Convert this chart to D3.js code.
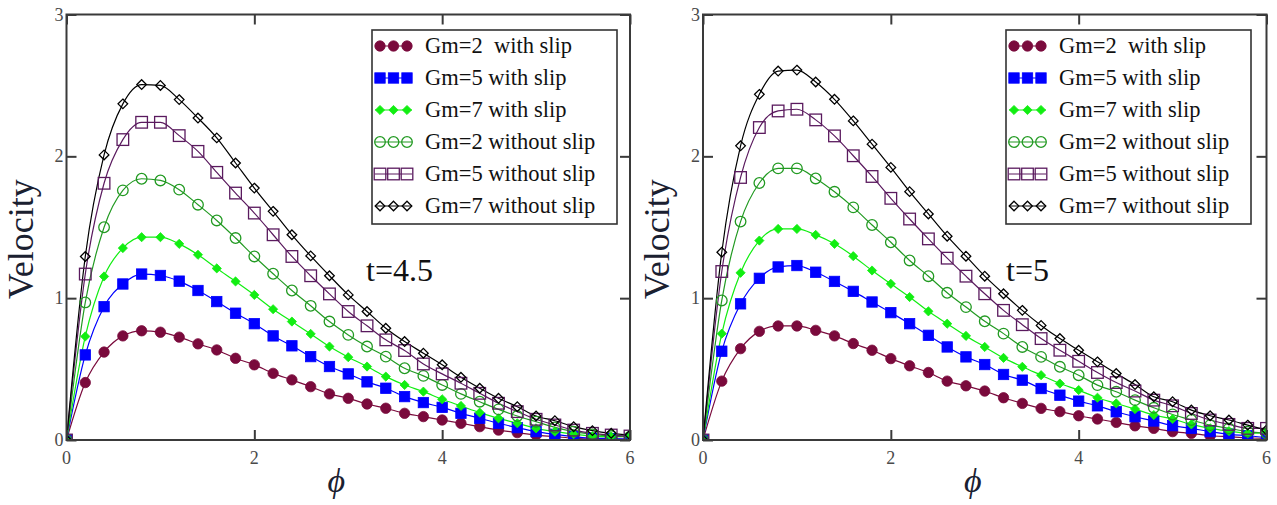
<!DOCTYPE html>
<html>
<head>
<meta charset="utf-8">
<script src="https://cdn.jsdelivr.net/npm/d3@7"></script>
<style>
  html, body { margin: 0; padding: 0; background: #fff; }
  svg { display: block; }
  text { font-family: "Liberation Serif", "Times New Roman", serif; }
</style>
</head>
<body>
<svg id="chart" width="1277" height="505"></svg>
<script>
// ---------- data ----------
const phiValues = [0,0.2,0.4,0.6,0.8,1.0,1.2,1.4,1.6,1.8,2.0,2.2,2.4,2.6,2.8,3.0,3.2,3.4,3.6,3.8,4.0,4.2,4.4,4.6,4.8,5.0,5.2,5.4,5.6,5.8,6.0];

const seriesNames = ["Gm=2  with slip","Gm=5 with slip","Gm=7 with slip","Gm=2 without slip","Gm=5 without slip","Gm=7 without slip"];

// t = 4.5
const gm2SlipT45   = [0,0.405,0.62,0.734,0.77,0.76,0.725,0.678,0.635,0.576,0.53,0.47,0.424,0.376,0.325,0.294,0.254,0.224,0.188,0.165,0.141,0.118,0.094,0.07,0.052,0.035,0.024,0.012,0.006,0.005,0.004];
const gm5SlipT45   = [0,0.6,0.94,1.1,1.17,1.16,1.12,1.054,0.976,0.894,0.82,0.734,0.664,0.588,0.518,0.466,0.41,0.365,0.306,0.264,0.23,0.188,0.153,0.118,0.087,0.059,0.04,0.024,0.012,0.01,0.006];
const gm7SlipT45   = [0,0.73,1.153,1.353,1.43,1.43,1.383,1.306,1.21,1.118,1.023,0.922,0.835,0.748,0.659,0.584,0.518,0.447,0.388,0.341,0.287,0.24,0.193,0.153,0.118,0.082,0.059,0.042,0.028,0.024,0.028];
const gm2NoSlipT45 = [0,0.97,1.5,1.76,1.842,1.83,1.765,1.659,1.548,1.424,1.294,1.172,1.054,0.946,0.835,0.741,0.659,0.588,0.506,0.452,0.388,0.325,0.27,0.216,0.169,0.129,0.089,0.059,0.04,0.028,0.024];
const gm5NoSlipT45 = [0,1.17,1.81,2.118,2.24,2.24,2.146,2.035,1.887,1.741,1.6,1.447,1.294,1.158,1.03,0.906,0.805,0.706,0.631,0.536,0.466,0.4,0.329,0.259,0.2,0.146,0.106,0.07,0.047,0.035,0.028];
const gm7NoSlipT45 = [0,1.294,2.01,2.37,2.506,2.5,2.4,2.27,2.13,1.953,1.776,1.612,1.447,1.298,1.158,1.023,0.906,0.788,0.694,0.612,0.53,0.442,0.365,0.294,0.235,0.169,0.136,0.094,0.066,0.047,0.035];

// t = 5
const gm2SlipT5   = [0,0.415,0.644,0.766,0.804,0.804,0.773,0.734,0.68,0.633,0.574,0.523,0.476,0.415,0.382,0.345,0.298,0.258,0.223,0.2,0.171,0.148,0.124,0.1,0.082,0.059,0.047,0.03,0.023,0.016,0.012];
const gm5SlipT5   = [0,0.626,0.96,1.14,1.22,1.23,1.183,1.118,1.048,0.973,0.898,0.82,0.738,0.656,0.586,0.532,0.462,0.422,0.363,0.316,0.274,0.241,0.199,0.164,0.134,0.101,0.082,0.059,0.04,0.03,0.016];
const gm7SlipT5   = [0,0.75,1.179,1.406,1.488,1.488,1.446,1.383,1.296,1.195,1.101,1.008,0.907,0.82,0.734,0.656,0.579,0.516,0.457,0.398,0.352,0.298,0.258,0.218,0.176,0.148,0.11,0.082,0.063,0.047,0.054];
const gm2NoSlipT5 = [0,0.984,1.54,1.812,1.915,1.915,1.844,1.75,1.64,1.516,1.394,1.266,1.155,1.038,0.937,0.837,0.75,0.656,0.586,0.516,0.457,0.387,0.34,0.281,0.227,0.18,0.141,0.105,0.082,0.059,0.047];
const gm5NoSlipT5 = [0,1.188,1.851,2.203,2.32,2.332,2.257,2.144,2.004,1.858,1.704,1.558,1.418,1.282,1.155,1.031,0.914,0.813,0.715,0.633,0.555,0.476,0.405,0.345,0.281,0.241,0.187,0.141,0.11,0.082,0.082];
const gm7NoSlipT5 = [0,1.324,2.074,2.437,2.601,2.608,2.524,2.402,2.25,2.086,1.922,1.751,1.594,1.437,1.296,1.155,1.031,0.914,0.808,0.715,0.633,0.551,0.469,0.391,0.305,0.27,0.211,0.171,0.141,0.105,0.07];

const xTicks = [0, 2, 4, 6];
const yTicks = [0, 1, 2, 3];
const panelLabels = ["t=4.5", "t=5"];

// ---------- styles ----------
const styles = [
  { color: "#7a0a3c", shape: "circle",  fill: true,  size: 5.2 },
  { color: "#0000ff", shape: "square",  fill: true,  size: 5.2 },
  { color: "#11ee11", shape: "diamond", fill: true,  size: 4.6 },
  { color: "#229a22", shape: "circle",  fill: false, size: 5.3 },
  { color: "#5a1a5e", shape: "square",  fill: false, size: 5.8 },
  { color: "#000000", shape: "diamond", fill: false, size: 4.8 }
];

const panels = [
  { left: 66.5, right: 630, label: panelLabels[0], series: [gm2SlipT45, gm5SlipT45, gm7SlipT45, gm2NoSlipT45, gm5NoSlipT45, gm7NoSlipT45], legendX: 372, labelX: 366 },
  { left: 703, right: 1266.5, label: panelLabels[1], series: [gm2SlipT5, gm5SlipT5, gm7SlipT5, gm2NoSlipT5, gm5NoSlipT5, gm7NoSlipT5], legendX: 1006, labelX: 1006 }
];
const plotTop = 14.5, plotBottom = 440;

const svg = d3.select("#chart");

function drawMarker(g, st, cx, cy) {
  const s = st.size;
  const sw = st.fill ? 0.8 : 1.3;
  const fill = st.fill ? st.color : "none";
  if (st.shape === "circle") {
    g.append("circle").attr("cx", cx).attr("cy", cy).attr("r", s)
      .attr("fill", fill).attr("stroke", st.color).attr("stroke-width", sw);
  } else if (st.shape === "square") {
    g.append("rect").attr("x", cx - s).attr("y", cy - s).attr("width", 2 * s).attr("height", 2 * s)
      .attr("fill", fill).attr("stroke", st.color).attr("stroke-width", sw);
  } else {
    g.append("path").attr("d", `M${cx},${cy - s}L${cx + s},${cy}L${cx},${cy + s}L${cx - s},${cy}Z`)
      .attr("fill", fill).attr("stroke", st.color).attr("stroke-width", sw);
  }
}

panels.forEach(p => {
  const x = d3.scaleLinear().domain([0, 6]).range([p.left, p.right]);
  const y = d3.scaleLinear().domain([0, 3]).range([plotBottom, plotTop]);
  const g = svg.append("g");

  const clipId = "clip" + Math.round(p.left);
  svg.append("clipPath").attr("id", clipId).append("rect")
    .attr("x", p.left).attr("y", plotTop).attr("width", p.right - p.left).attr("height", plotBottom - plotTop);

  const plot = g.append("g").attr("clip-path", `url(#${clipId})`);
  const line = d3.line().x((d, i) => x(phiValues[i])).y(d => y(d)).curve(d3.curveMonotoneX);
  p.series.forEach((vals, si) => {
    const st = styles[si];
    plot.append("path").attr("d", line(vals)).attr("fill", "none")
      .attr("stroke", st.color).attr("stroke-width", 1.2);
  });
  p.series.forEach((vals, si) => {
    const st = styles[si];
    const mg = plot.append("g");
    vals.forEach((v, i) => drawMarker(mg, st, x(phiValues[i]), y(v)));
  });

  g.append("rect").attr("x", p.left).attr("y", plotTop).attr("width", p.right - p.left).attr("height", plotBottom - plotTop)
    .attr("fill", "none").attr("stroke", "#3a3a3a").attr("stroke-width", 2);

  const tl = 10;
  const axB = d3.axisBottom(x).tickValues(xTicks).tickSize(-tl).tickFormat("");
  const axT = d3.axisTop(x).tickValues(xTicks).tickSize(-tl).tickFormat("");
  const axL = d3.axisLeft(y).tickValues(yTicks).tickSize(-tl).tickFormat("");
  const axR = d3.axisRight(y).tickValues(yTicks).tickSize(-tl).tickFormat("");
  [[axB, `translate(0,${plotBottom})`], [axT, `translate(0,${plotTop})`], [axL, `translate(${p.left},0)`], [axR, `translate(${p.right},0)`]]
    .forEach(([ax, tr]) => {
      const a = g.append("g").attr("transform", tr).call(ax);
      a.select(".domain").remove();
      a.selectAll("line").attr("stroke", "#3a3a3a").attr("stroke-width", 2);
    });

  g.selectAll(".xl").data(xTicks).enter().append("text")
    .attr("x", d => x(d)).attr("y", 464).attr("text-anchor", "middle")
    .attr("font-size", 18).attr("fill", "#4a4a4a").text(d => d);
  g.selectAll(".yl").data(yTicks).enter().append("text")
    .attr("x", p.left - 3).attr("y", d => y(d) + 6).attr("text-anchor", "end")
    .attr("font-size", 18).attr("fill", "#4a4a4a").text(d => d);

  g.append("text").attr("transform", `translate(${p.left - 34},${(plotTop + plotBottom) / 2 + 12}) rotate(-90)`)
    .attr("text-anchor", "middle").attr("font-size", 36).attr("fill", "#1a2030").text("Velocity");
  g.append("text").attr("x", (p.left + p.right) / 2 - 12).attr("y", 492).attr("text-anchor", "middle")
    .attr("font-size", 34).attr("font-style", "italic").attr("fill", "#1a2030").text("ϕ");

  g.append("text").attr("x", p.labelX).attr("y", 281).attr("font-size", 32).attr("fill", "#111").text(p.label);

  const lx = p.legendX, ly = 30, lw = 245, lh = 194;
  const lg = g.append("g");
  lg.append("rect").attr("x", lx).attr("y", ly).attr("width", lw).attr("height", lh)
    .attr("fill", "#fff").attr("stroke", "#333").attr("stroke-width", 1.6);
  seriesNames.forEach((name, i) => {
    const st = styles[i];
    const cy = ly + 16 + i * 32;
    lg.append("line").attr("x1", lx + 3).attr("x2", lx + 40).attr("y1", cy).attr("y2", cy)
      .attr("stroke", st.color).attr("stroke-width", 1.2);
    [lx + 8, lx + 21.5, lx + 35].forEach(cx => drawMarker(lg, st, cx, cy));
    lg.append("text").attr("x", lx + 53).attr("y", cy + 7).attr("font-size", 22.5)
      .attr("fill", "#111").style("white-space", "pre").text(name);
  });
});
</script>
</body>
</html>
